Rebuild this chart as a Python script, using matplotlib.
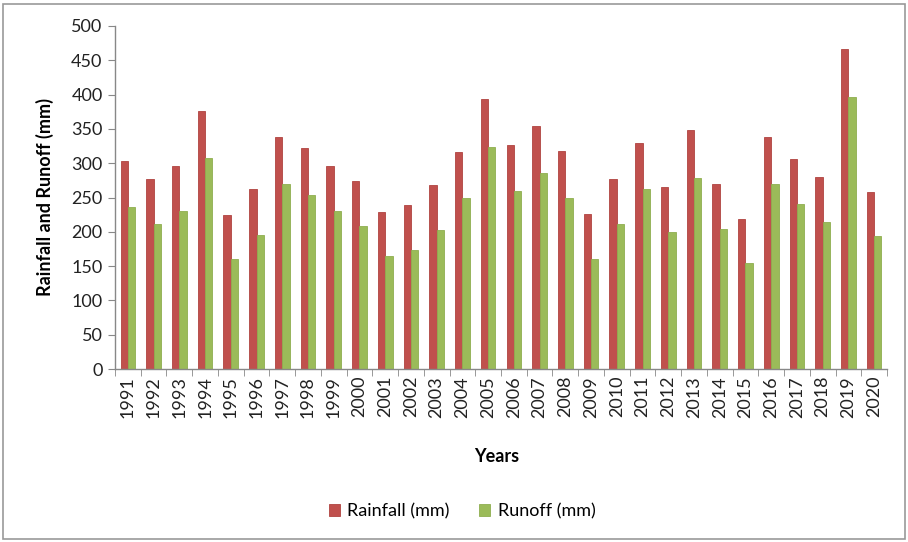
import matplotlib
matplotlib.use("Agg")
import matplotlib.pyplot as plt
import numpy as np
from matplotlib.patches import Rectangle

years = [str(y) for y in range(1991, 2021)]
rainfall = [303, 277, 296, 376, 225, 262, 338, 322, 296, 274,
            229, 239, 268, 316, 394, 327, 354, 318, 226, 277,
            330, 265, 348, 269, 219, 338, 306, 280, 466, 258]
runoff = [236, 211, 230, 307, 160, 196, 270, 254, 230, 208,
          164, 174, 202, 249, 324, 260, 285, 250, 161, 211,
          263, 199, 279, 204, 155, 270, 240, 215, 397, 194]
yticks = [0, 50, 100, 150, 200, 250, 300, 350, 400, 450, 500]

plt.rcParams['font.family'] = ['Lato', 'DejaVu Sans']

red = '#C0504D'
green = '#9BBB59'
fs = 13

fig = plt.figure(figsize=(9.08, 5.42), dpi=100)
ax = fig.add_axes([115/908, 1-369/542, (887-115)/908, (369-26)/542])

x = np.arange(len(years))
w = 1/3.5
ax.bar(x - w/2, rainfall, width=w, color=red, edgecolor='#B04340', linewidth=0.6, label='Rainfall (mm)')
ax.bar(x + w/2, runoff, width=w, color=green, edgecolor='#8FAE50', linewidth=0.6, label='Runoff (mm)')

ax.set_xlim(-0.5, len(years) - 0.5)
ax.set_ylim(0, 500)
ax.set_yticks(yticks)
ax.set_yticklabels([str(v) for v in yticks], fontsize=fs, color='#222222')
ax.set_xticks(x)
ax.set_xticklabels(years, rotation=90, fontsize=fs, color='#222222')
ax.tick_params(axis='x', length=0, pad=5)
ax.set_xticks(np.arange(-0.5, len(years)), minor=True)
ax.tick_params(axis='x', which='minor', length=5, color='#888888')
ax.tick_params(axis='y', length=5, color='#888888', pad=4)

for s in ['top', 'right']:
    ax.spines[s].set_visible(False)
for s in ['left', 'bottom']:
    ax.spines[s].set_color('#888888')
    ax.spines[s].set_linewidth(1.0)

ax.set_ylabel('Rainfall and Runoff (mm)', fontsize=fs, fontweight='bold', labelpad=12)
fig.text(497/908, 1-457/542, 'Years', ha='center', va='center', fontsize=fs, fontweight='bold')

leg = fig.legend(loc='center', bbox_to_anchor=(462/908, 1-511/542), ncol=2, frameon=False,
                 fontsize=fs, handlelength=0.65, handleheight=0.65, handletextpad=0.4,
                 columnspacing=1.6)

fig.patches.append(Rectangle((3/908, 3/542), 902/908, 535/542, transform=fig.transFigure,
                             fill=False, edgecolor='#999999', linewidth=1.2))

fig.savefig('out.png', dpi=100)
